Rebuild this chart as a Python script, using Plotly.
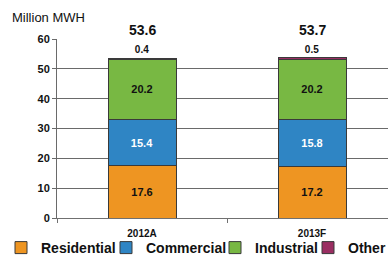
import plotly.graph_objects as go

categories = ["2012A", "2013F"]
series_names = ["Residential", "Commercial", "Industrial", "Other"]
residential = [17.6, 17.2]
commercial = [15.4, 15.8]
industrial = [20.2, 20.2]
other = [0.4, 0.5]
y_ticks = [0, 10, 20, 30, 40, 50, 60]

values = [residential, commercial, industrial, other]
colors = ["#EE9522", "#2F85C4", "#78B843", "#9A2E62"]
label_colors = ["#111111", "#FFFFFF", "#111111", "#111111"]
legend_ids = ["legend", "legend2", "legend3", "legend4"]
legend_x_px = [1, 106, 215, 308]

W, H = 388, 257
FONT = "Arial, Liberation Sans, sans-serif"

fig = go.Figure()
for i, (name, vals) in enumerate(zip(series_names, values)):
    fig.add_trace(go.Bar(
        x=categories, y=vals, name=name,
        width=0.4,
        marker=dict(color=colors[i], line=dict(color="#3a3a3a", width=1)),
        text=[f"{v:.1f}" for v in vals],
        textposition="outside" if i == 3 else "inside",
        insidetextanchor="middle",
        textangle=0,
        constraintext="none",
        textfont=dict(family=FONT, size=11 if i < 3 else 10, color=label_colors[i], weight="bold"),
        cliponaxis=False,
        legend=legend_ids[i],
        hoverinfo="skip",
    ))

totals = [sum(v[j] for v in values) for j in range(len(categories))]
for cat, tot in zip(categories, totals):
    fig.add_annotation(
        x=cat, y=tot, xref="x", yref="y",
        text=f"{tot:.1f}", showarrow=False,
        yanchor="bottom", yshift=18,
        font=dict(family=FONT, size=14, color="#111111", weight="bold"),
    )

legend_common = dict(
    orientation="h", xref="container", yref="container",
    xanchor="left", yanchor="middle", y=1 - 248 / H,
    font=dict(family=FONT, size=14, color="#111111", weight="bold"),
    bgcolor="rgba(0,0,0,0)", borderwidth=0,
)
leg_layout = {}
for lid, px in zip(legend_ids, legend_x_px):
    leg_layout[lid] = dict(legend_common, x=px / W)

fig.update_layout(
    width=W, height=H,
    barmode="stack",
    paper_bgcolor="white", plot_bgcolor="white",
    margin=dict(l=57, r=0, t=39, b=39, autoexpand=False),
    showlegend=True,
    title=dict(
        text="Million MWH", x=12 / W, xref="container", xanchor="left",
        y=1 - 17 / H, yref="container", yanchor="middle",
        font=dict(family=FONT, size=13, color="#111111"),
    ),
    xaxis=dict(
        type="category", range=[-0.5, 1.447],
        tickson="boundaries", ticks="outside", ticklen=4, tickcolor="#707070",
        showline=True, linecolor="#707070", linewidth=1, showgrid=False,
        tickfont=dict(family=FONT, size=10, color="#111111", weight="bold"),
        ticklabelstandoff=6,
    ),
    yaxis=dict(
        range=[0, 60], tickvals=y_ticks,
        showgrid=True, gridcolor="#6a6a6a", gridwidth=1,
        showline=True, linecolor="#6a6a6a", linewidth=1,
        ticks="outside", ticklen=4, tickcolor="#6a6a6a",
        zeroline=False,
        tickfont=dict(family=FONT, size=11, color="#111111", weight="bold"),
    ),
    **leg_layout,
)

fig.write_html(
    "out.html",
    config={"displayModeBar": False},
    post_script="document.body.style.margin='0';document.body.style.padding='0';",
)
